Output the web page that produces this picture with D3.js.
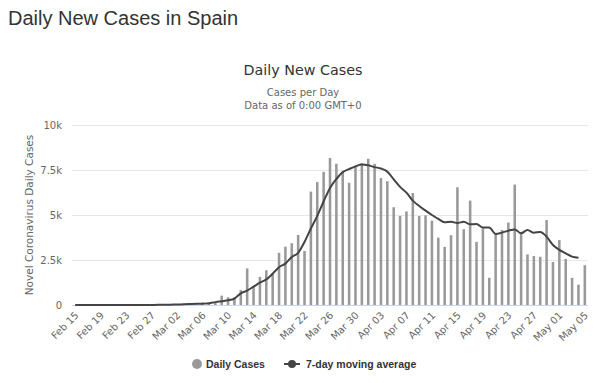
<!DOCTYPE html>
<html>
<head>
<meta charset="utf-8">
<script src="https://cdn.jsdelivr.net/npm/d3@7"></script>
<style>
  html, body { margin: 0; padding: 0; background: #fff; }
  svg { display: block; }
</style>
</head>
<body>
<svg id="chart" width="600" height="383"></svg>
<script>
// ---- Data ----
const dates = [
  "Feb 15","Feb 16","Feb 17","Feb 18","Feb 19","Feb 20","Feb 21","Feb 22","Feb 23","Feb 24",
  "Feb 25","Feb 26","Feb 27","Feb 28","Feb 29",
  "Mar 01","Mar 02","Mar 03","Mar 04","Mar 05","Mar 06","Mar 07","Mar 08","Mar 09","Mar 10",
  "Mar 11","Mar 12","Mar 13","Mar 14","Mar 15","Mar 16","Mar 17","Mar 18","Mar 19","Mar 20",
  "Mar 21","Mar 22","Mar 23","Mar 24","Mar 25","Mar 26","Mar 27","Mar 28","Mar 29","Mar 30","Mar 31",
  "Apr 01","Apr 02","Apr 03","Apr 04","Apr 05","Apr 06","Apr 07","Apr 08","Apr 09","Apr 10",
  "Apr 11","Apr 12","Apr 13","Apr 14","Apr 15","Apr 16","Apr 17","Apr 18","Apr 19","Apr 20",
  "Apr 21","Apr 22","Apr 23","Apr 24","Apr 25","Apr 26","Apr 27","Apr 28","Apr 29","Apr 30",
  "May 01","May 02","May 03","May 04","May 05"
];
const dailyCases = [
  0,0,0,0,0,0,0,0,0,0,
  4,7,2,17,13,
  39,36,45,57,37,141,100,173,520,430,
  440,830,2030,1050,1560,1930,1760,2900,3240,3430,
  3890,3000,6300,6830,7400,8170,7850,7400,6790,7720,7870,
  8120,7840,7060,6880,5430,4940,5200,6220,4940,4980,
  4690,3740,3230,3880,6540,4210,5800,3510,4260,1510,
  3960,4170,4580,6690,3960,2810,2720,2680,4720,2390,
  3610,2560,1510,1130,2210
];
const movingAvg = [
  0,0,0,0,0,0,0,0,0,1,
  1,2,4,8,12,
  20,26,35,50,65,75,100,160,210,260,
  360,650,800,1020,1240,1420,1740,2100,2300,2670,
  2900,3500,4250,4950,5750,6500,7000,7380,7550,7700,7800,
  7760,7660,7580,7410,6980,6560,6240,5800,5500,5240,
  5000,4780,4600,4630,4550,4630,4480,4500,4300,4300,
  3950,4020,4130,4200,3980,4170,4020,4060,3800,3330,
  3060,2870,2690,2630
];
const xTickLabels = ["Feb 15","Feb 19","Feb 23","Feb 27","Mar 02","Mar 06","Mar 10","Mar 14","Mar 18",
  "Mar 22","Mar 26","Mar 30","Apr 03","Apr 07","Apr 11","Apr 15","Apr 19","Apr 23","Apr 27","May 01","May 05"];
const yTicks = [0, 2500, 5000, 7500, 10000];
const yTickLabels = ["0", "2.5k", "5k", "7.5k", "10k"];

// ---- Drawing ----
const svg = d3.select("#chart");
const fontHC = '"Lucida Grande","Lucida Sans Unicode","DejaVu Sans",Arial,sans-serif';
const plot = { left: 72, right: 588, top: 125, bottom: 305 };

const x = d3.scaleBand().domain(dates).range([plot.left, plot.right]).paddingInner(0.6).paddingOuter(0.3);
const y = d3.scaleLinear().domain([0, 10000]).range([plot.bottom, plot.top]);

// Page title
svg.append("text").attr("x", 8).attr("y", 25)
  .attr("font-family", '"Liberation Sans",Arial,Helvetica,sans-serif')
  .attr("font-size", 20).attr("fill", "#333").text("Daily New Cases in Spain");

// Chart title/subtitle
svg.append("text").attr("x", 303).attr("y", 75).attr("text-anchor", "middle")
  .attr("font-family", fontHC).attr("font-size", 14.3).attr("fill", "#333").text("Daily New Cases");
svg.append("text").attr("x", 303).attr("y", 96).attr("text-anchor", "middle")
  .attr("font-family", fontHC).attr("font-size", 10).attr("fill", "#666").text("Cases per Day");
svg.append("text").attr("x", 303).attr("y", 109).attr("text-anchor", "middle")
  .attr("font-family", fontHC).attr("font-size", 10).attr("fill", "#666").text("Data as of 0:00 GMT+0");

// Grid lines
svg.append("g").selectAll("line").data(yTicks.filter(d => d > 0)).join("line")
  .attr("x1", plot.left).attr("x2", plot.right)
  .attr("y1", d => Math.round(y(d)) + 0.5).attr("y2", d => Math.round(y(d)) + 0.5)
  .attr("stroke", "#e6e6e6").attr("stroke-width", 1);

// Y axis labels
svg.append("g").selectAll("text").data(yTicks).join("text")
  .attr("x", 62).attr("y", d => y(d) + 4).attr("text-anchor", "end")
  .attr("font-family", fontHC).attr("font-size", 10).attr("fill", "#666")
  .text((d, i) => yTickLabels[i]);

// Y axis title
svg.append("text")
  .attr("transform", `translate(33,${(plot.top + plot.bottom) / 2}) rotate(-90)`)
  .attr("text-anchor", "middle").attr("font-family", fontHC).attr("font-size", 10.5)
  .attr("fill", "#666").text("Novel Coronavirus Daily Cases");

// Bars
svg.append("g").selectAll("rect").data(dailyCases).join("rect")
  .attr("x", (d, i) => x(dates[i]))
  .attr("width", x.bandwidth())
  .attr("y", d => y(d))
  .attr("height", d => y(0) - y(d))
  .attr("fill", "#999999");

// X axis line
svg.append("line").attr("x1", plot.left).attr("x2", plot.right)
  .attr("y1", plot.bottom + 0.5).attr("y2", plot.bottom + 0.5)
  .attr("stroke", "#ccd6eb").attr("stroke-width", 1);

// Moving average line
const line = d3.line()
  .x((d, i) => x(dates[i]) + x.bandwidth() / 2)
  .y(d => y(d))
  .curve(d3.curveMonotoneX);
svg.append("path").datum(movingAvg).attr("d", line)
  .attr("fill", "none").attr("stroke", "#444").attr("stroke-width", 2)
  .attr("stroke-linejoin", "round");

// X tick labels
svg.append("g").selectAll("text").data(xTickLabels).join("text")
  .attr("transform", d => `translate(${x(d) + x.bandwidth() / 2 + 4},${plot.bottom + 11}) rotate(-45)`)
  .attr("text-anchor", "end")
  .attr("font-family", fontHC).attr("font-size", 10).attr("fill", "#666")
  .text(d => d);

// Legend
const lg = svg.append("g").attr("font-family", '"Liberation Sans",Arial,sans-serif').attr("font-size", 10.5)
  .attr("font-weight", "bold").attr("fill", "#333");
lg.append("circle").attr("cx", 197).attr("cy", 364).attr("r", 5).attr("fill", "#999999");
lg.append("text").attr("x", 206).attr("y", 368).text("Daily Cases");
lg.append("line").attr("x1", 284).attr("x2", 300).attr("y1", 364).attr("y2", 364)
  .attr("stroke", "#444").attr("stroke-width", 2);
lg.append("circle").attr("cx", 292).attr("cy", 364).attr("r", 4).attr("fill", "#444");
lg.append("text").attr("x", 306).attr("y", 368).text("7-day moving average");
</script>
</body>
</html>
